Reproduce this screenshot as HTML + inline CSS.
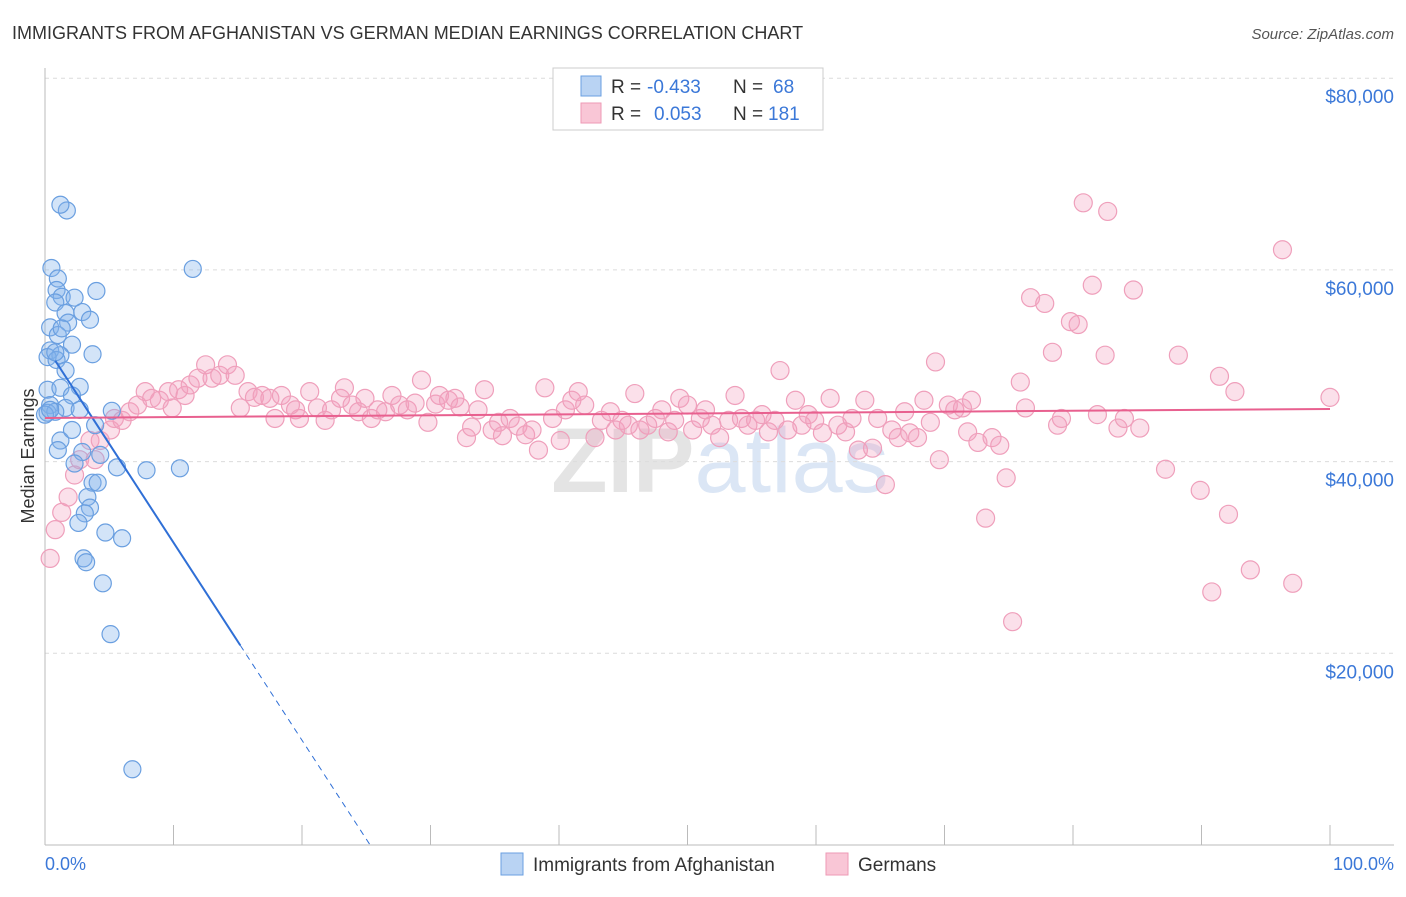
<!DOCTYPE html>
<html><head><meta charset="utf-8"><style>
body{margin:0;background:#fff;font-family:"Liberation Sans",sans-serif;}
svg text{font-family:"Liberation Sans",sans-serif;}
</style></head><body>
<svg id="chart" width="1406" height="892" xmlns="http://www.w3.org/2000/svg">
<text x="12" y="39" font-size="18" fill="#333">IMMIGRANTS FROM AFGHANISTAN VS GERMAN MEDIAN EARNINGS CORRELATION CHART</text>
<text x="1394" y="39" font-size="15" fill="#555" text-anchor="end" font-style="italic">Source: ZipAtlas.com</text>
<text x="720" y="492" font-size="92" fill="#e4e4e4" text-anchor="middle" font-family="Liberation Serif" font-weight="bold">ZIP<tspan fill="#dbe6f5" font-family="Liberation Sans" font-weight="normal">atlas</tspan></text>
<g id="grid"></g>
<g id="axes"></g>
<g id="pts"></g>
<g id="trend"></g>
<text transform="translate(34,456) rotate(-90)" font-size="18" fill="#333" text-anchor="middle">Median Earnings</text>
<text x="45" y="870" font-size="18" fill="#3b78d8">0.0%</text>
<text x="1394" y="870" font-size="18" fill="#3b78d8" text-anchor="end">100.0%</text>
<g>
<rect x="553" y="68" width="270" height="62" fill="#fff" stroke="#ccc"/>
<rect x="581" y="76" width="20" height="20" fill="#b9d3f3" stroke="#6a9fe0"/>
<rect x="581" y="103" width="20" height="20" fill="#f9c6d6" stroke="#ee9ab5"/>
<text x="611" y="93" font-size="19" fill="#333">R =</text>
<text x="647" y="93" font-size="19" fill="#3b78d8">-0.433</text>
<text x="733" y="93" font-size="19" fill="#333">N =</text>
<text x="773" y="93" font-size="19" fill="#3b78d8">68</text>
<text x="611" y="120" font-size="19" fill="#333">R =</text>
<text x="654" y="120" font-size="19" fill="#3b78d8">0.053</text>
<text x="733" y="120" font-size="19" fill="#333">N =</text>
<text x="768" y="120" font-size="19" fill="#3b78d8">181</text>
</g>
<g>
<rect x="501" y="853" width="22" height="22" fill="#b9d3f3" stroke="#6a9fe0"/>
<text x="533" y="871" font-size="19" fill="#333">Immigrants from Afghanistan</text>
<rect x="826" y="853" width="22" height="22" fill="#f9c6d6" stroke="#ee9ab5"/>
<text x="858" y="871" font-size="19" fill="#333">Germans</text>
</g>
</svg>
<script>
const yTicks=[20000,40000,60000,80000];
const yTickLabels=["$20,000","$40,000","$60,000","$80,000"];
const xTicks=[0,10,20,30,40,50,60,70,80,90,100];
const blueX=[0.5,1.7,1.2,1.0,0.9,1.3,0.8,2.3,4.0,11.5,1.6,2.9,3.5,1.8,0.4,1.0,2.1,0.4,1.2,0.2,0.9,3.7,1.6,2.7,0.2,1.2,2.1,0.4,1.6,2.7,5.2,0.2,0.8,3.9,1.2,2.1,1.0,2.9,4.3,2.3,5.6,7.9,10.5,3.7,4.1,3.3,3.5,3.1,2.6,4.7,6.0,3.0,3.2,4.5,5.1,6.8,0.0,0.4,0.8,1.3];
const blueY=[60.2,66.2,66.8,59.1,57.9,57.2,56.6,57.1,57.8,60.1,55.5,55.6,54.8,54.5,54.0,53.2,52.2,51.6,51.1,50.9,50.6,51.2,49.5,47.8,47.5,47.7,46.9,45.9,45.6,45.4,45.3,45.1,45.2,43.8,42.2,43.3,41.2,41.0,40.7,39.8,39.4,39.1,39.3,37.8,37.8,36.3,35.2,34.6,33.6,32.6,32.0,29.9,29.5,27.3,22.0,7.9,44.9,45.4,51.4,53.9];
const pinkX=[0.4,0.8,1.3,1.8,2.3,2.7,3.5,4.3,3.9,5.1,5.4,6.0,6.6,7.2,7.8,8.3,8.9,9.6,9.9,10.4,10.9,11.3,11.9,12.5,13.0,13.6,14.2,14.8,15.2,15.8,16.3,16.9,17.5,17.9,18.4,19.1,19.5,19.8,20.6,21.2,21.8,22.3,23.0,23.3,23.9,24.4,24.9,25.4,25.9,26.5,27.0,27.6,28.2,28.8,29.3,29.8,30.4,30.7,31.4,31.9,32.3,32.8,33.2,33.7,34.2,34.8,35.3,35.6,36.2,36.8,37.4,37.9,38.4,38.9,39.5,40.1,40.5,41.0,41.5,42.0,42.8,43.3,44.0,44.4,44.9,45.4,45.9,46.3,46.9,47.5,48.0,48.5,49.0,49.4,50.0,50.4,51.0,51.4,51.9,52.5,53.2,53.7,54.2,54.7,55.3,55.8,56.3,56.8,57.2,57.8,58.4,58.9,59.4,59.9,60.5,61.1,61.7,62.3,62.8,63.3,63.8,64.4,64.8,65.4,65.9,66.4,66.9,67.3,67.9,68.4,68.9,69.3,69.6,70.3,70.8,71.4,71.8,72.1,72.6,73.2,73.7,74.3,74.8,75.3,75.9,76.3,76.7,77.8,78.4,78.8,79.1,79.8,80.4,80.8,81.5,81.9,82.5,82.7,83.5,84.0,84.7,85.2,87.2,88.2,89.9,90.8,91.4,92.1,92.6,93.8,96.3,97.1,100.0];
const pinkY=[29.9,32.9,34.7,36.3,38.6,40.2,42.2,42.2,40.2,43.3,44.5,44.3,45.2,45.9,47.3,46.6,46.4,47.3,45.6,47.5,46.9,48.0,48.7,50.1,48.7,49.0,50.1,49.0,45.6,47.3,46.7,46.9,46.6,44.5,46.9,45.9,45.4,44.5,47.3,45.6,44.3,45.4,46.6,47.7,45.9,45.2,46.6,44.5,45.4,45.2,46.9,45.9,45.4,46.1,48.5,44.1,46.0,46.9,46.4,46.6,45.7,42.5,43.6,45.4,47.5,43.3,44.1,42.7,44.5,43.7,42.8,43.3,41.2,47.7,44.5,42.2,45.4,46.4,47.3,45.9,42.5,44.3,45.2,43.3,44.3,43.8,47.1,43.3,43.8,44.5,45.4,43.1,44.3,46.6,45.9,43.3,44.5,45.4,43.8,42.5,44.3,46.9,44.5,43.8,44.3,44.9,43.1,44.3,49.5,43.3,46.4,43.8,44.9,44.3,43.0,46.6,43.8,43.1,44.5,41.2,46.4,41.4,44.5,37.6,43.3,42.5,45.2,43.0,42.5,46.4,44.1,50.4,40.2,45.9,45.4,45.6,43.1,46.4,42.0,34.1,42.5,41.7,38.3,23.3,48.3,45.6,57.1,56.5,51.4,43.8,44.5,54.6,54.3,67.0,58.4,44.9,51.1,66.1,43.5,44.5,57.9,43.5,39.2,51.1,37.0,26.4,48.9,34.5,47.3,28.7,62.1,27.3,46.7];
const blueTrend=[52170,-2062];
const pinkTrend=[44550,9.4];
const X0=45,X1=1330,Y0=845,PX20K=191.7;
const sx=p=>X0+(X1-X0)*p/100;
const sy=v=>Y0-v/20000*PX20K;
const NS="http://www.w3.org/2000/svg";
function mk(tag,attrs,parent){const e=document.createElementNS(NS,tag);for(const k in attrs)e.setAttribute(k,attrs[k]);parent.appendChild(e);return e;}
const grid=document.getElementById('grid'),axes=document.getElementById('axes');
yTicks.forEach((t,i)=>{
  const l=mk('line',{x1:X0,x2:1394,y1:sy(t),y2:sy(t),stroke:'#dcdcdc','stroke-dasharray':'4,4'},grid);
  
  
  const tx=mk('text',{x:1394,y:sy(t)+25,'font-size':19,fill:'#3b78d8','text-anchor':'end'},grid);
  tx.textContent=yTickLabels[i];
  
  
});
const ya=mk('line',{x1:X0,x2:X0,y1:68,y2:Y0,stroke:'#bbb'},axes);


const xa=mk('line',{x1:X0,x2:1394,y1:Y0,y2:Y0,stroke:'#bbb'},axes);


xTicks.forEach(t=>{
  const l=mk('line',{x1:sx(t),x2:sx(t),y1:Y0-20,y2:Y0,stroke:'#bbb'},axes);
  
  
});
const pts=document.getElementById('pts');
pinkX.forEach((x,i)=>{
  const c=mk('circle',{cx:sx(x),cy:sy(pinkY[i]*1000),r:9,fill:'rgba(243,160,190,0.32)',stroke:'#ef9fbb','stroke-width':1.2},pts);
  
  
});
blueX.forEach((x,i)=>{
  const c=mk('circle',{cx:sx(x),cy:sy(blueY[i]*1000),r:8.5,fill:'rgba(130,178,235,0.35)',stroke:'#6a9fe0','stroke-width':1.2},pts);
  
  
});
const tr=document.getElementById('trend');
const bv=p=>blueTrend[0]+blueTrend[1]*p;
const bEnd=15.2, bZero=-blueTrend[0]/blueTrend[1];
const b1=mk('line',{x1:sx(0.8),y1:sy(bv(0.8)),x2:sx(bEnd),y2:sy(bv(bEnd)),stroke:'#2f6fd6','stroke-width':2},tr);


const b2=mk('line',{x1:sx(bEnd),y1:sy(bv(bEnd)),x2:sx(bZero),y2:sy(0),stroke:'#2f6fd6','stroke-width':1,'stroke-dasharray':'6,5'},tr);


const pv=p=>pinkTrend[0]+pinkTrend[1]*p;
const p1=mk('line',{x1:sx(0),y1:sy(pv(0)),x2:sx(100),y2:sy(pv(100)),stroke:'#e8608f','stroke-width':2},tr);


</script>
</body></html>
